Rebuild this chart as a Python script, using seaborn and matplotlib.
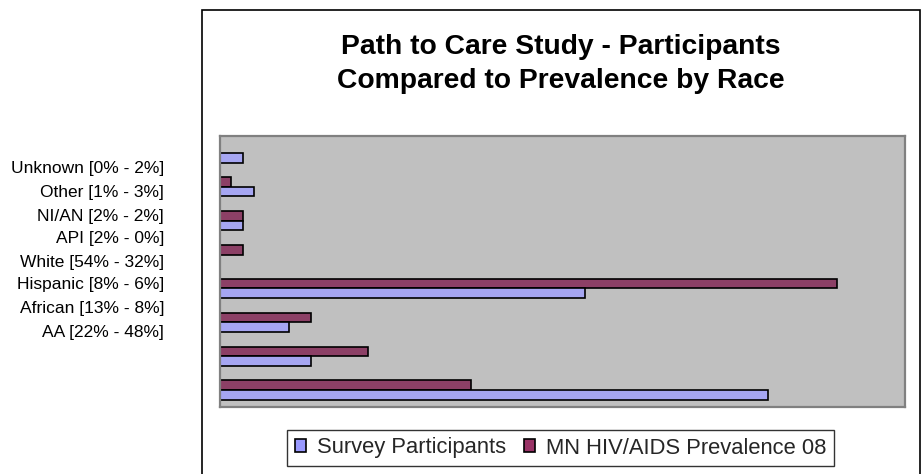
import matplotlib
matplotlib.use("Agg")
import matplotlib.pyplot as plt
from matplotlib.patches import Rectangle, Patch
import pandas as pd
import seaborn as sns

# Race categories, top to bottom
categories = ["Unknown", "Other", "NI/AN", "API", "White", "Hispanic", "African", "AA"]
# Percent of MN HIV/AIDS prevalence 2008 by race
prevalence = [0, 1, 2, 2, 54, 8, 13, 22]
# Percent of survey participants by race
participants = [2, 3, 2, 0, 32, 6, 8, 48]

series_survey = "Survey Participants"
series_prev = "MN HIV/AIDS Prevalence 08"
colors = {series_survey: "#9999FF", series_prev: "#993366"}

df = pd.DataFrame({
    "race": categories * 2,
    "pct": prevalence + participants,
    "series": [series_prev] * len(categories) + [series_survey] * len(categories),
})

sns.set_theme(style="white")
plt.rcParams["font.family"] = ["Liberation Sans", "DejaVu Sans"]

W, H = 922, 474
fig = plt.figure(figsize=(W / 100, H / 100), dpi=100)

# Outer chart frame
fig.add_artist(Rectangle((201.5 / W, -0.05), (920 - 201.5) / W, 1 - 10 / H + 0.05,
                         transform=fig.transFigure, fill=False,
                         edgecolor="black", linewidth=1.2))

ax = fig.add_axes([220 / W, 1 - 407 / H, (905 - 220) / W, (407 - 136) / H])
ax.set_facecolor("#C0C0C0")

sns.barplot(data=df, y="race", x="pct", hue="series", order=categories,
            hue_order=[series_prev, series_survey], palette=colors,
            orient="h", width=0.57, gap=0, edgecolor="black", linewidth=1.2,
            legend=False, ax=ax)

ax.set_xlim(0, 60)
ax.set_ylim(len(categories) - 0.5, -0.5)
ax.set_xticks([])
ax.set_yticks([])
ax.set_xlabel("")
ax.set_ylabel("")
for s in ax.spines.values():
    s.set_color("#808080")
    s.set_linewidth(1.6)

# Category labels with both percentages
label_y = [169, 193, 216, 239, 262, 285, 308, 332]
for cat, p, s, yy in zip(categories, prevalence, participants, label_y):
    fig.text(164 / W, 1 - yy / H, f"{cat} [{p}% - {s}%]", ha="right", va="center",
             fontsize=12.5, color="black")

fig.text(560.5 / W, 1 - 64 / H,
         "Path to Care Study - Participants\nCompared to Prevalence by Race",
         ha="center", va="center", fontsize=20.3, fontweight="bold",
         linespacing=1.35, color="black")

handles = [Patch(facecolor=colors[series_survey], edgecolor="black", linewidth=1.2),
           Patch(facecolor=colors[series_prev], edgecolor="black", linewidth=1.2)]
leg = fig.legend(handles, [series_survey, series_prev], loc="center",
                 bbox_to_anchor=(560.5 / W, 1 - 448 / H), ncol=2, fontsize=15.8,
                 frameon=True, fancybox=False, handlelength=0.5, handleheight=0.5,
                 handletextpad=0.5, columnspacing=0.8, borderpad=0.35,
                 borderaxespad=0)
leg.get_frame().set_edgecolor("black")
leg.get_frame().set_linewidth(1.0)

fig.savefig("out.png", dpi=100)
